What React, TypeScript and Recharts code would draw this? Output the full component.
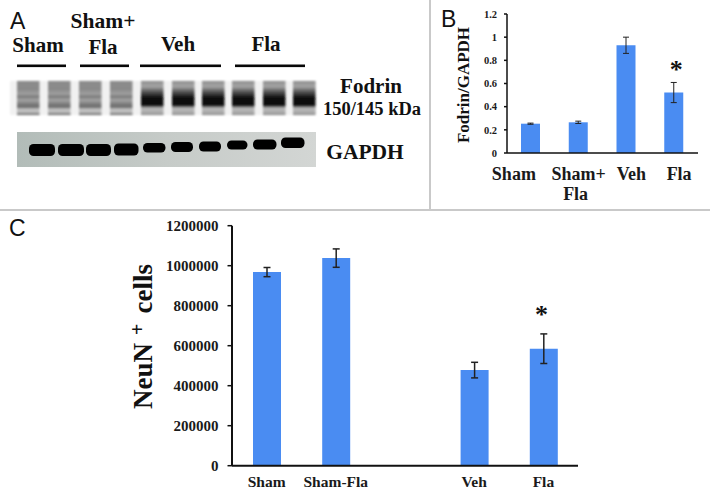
import { Bar, BarChart, ErrorBar, Label, ReferenceDot, XAxis, YAxis } from "recharts";

const SERIF = "'Liberation Serif', serif";
const SANS = "'Liberation Sans', sans-serif";
const BLUE = "#4a8cf2";
const INK = "#1a1a1a";

// panel B
const fodrinGroups = ["Sham", "Sham+\nFla", "Veh", "Fla"];
const fodrinValues = [0.253, 0.265, 0.93, 0.522];
const fodrinErrors = [0.005, 0.01, 0.07, 0.087];
const fodrinTicks = [0, 0.2, 0.4, 0.6, 0.8, 1, 1.2];
const fodrinLabelShift = [-17, 0, 5, 5];

// panel C
const neunGroups = ["Sham", "Sham-Fla", " ", "Veh", "Fla"];
const neunValues = [968000, 1038000, null, 478000, 585000];
const neunErrors = [23000, 46000, null, 39000, 74000];
const neunTicks = [0, 200000, 400000, 600000, 800000, 1000000, 1200000];

// panel A blot
const fodrinLanes = [17, 48, 79, 110, 141, 172, 202, 232, 263, 293];
const fodrinLaneKinds = ["l", "l", "l", "l", "d", "d", "d", "d", "d", "d"];
const gapdhBands = [
  [29, 144, 26, 12], [58, 144, 26, 12], [86, 144, 25, 12], [114, 143.5, 24.5, 12], [143, 143, 22.5, 9.5],
  [171, 142, 22, 10], [199, 141.5, 22, 10], [227, 140.5, 20.5, 9], [253, 139.5, 23.5, 10], [281, 137.5, 23.5, 10.5],
];

const fodrinData = fodrinGroups.map((group, i) => ({ group, value: fodrinValues[i], err: fodrinErrors[i] }));
const neunData = neunGroups.map((group, i) => ({ group, value: neunValues[i], err: neunErrors[i] }));

function FodrinTick({ x, y, payload, index }: any) {
  const lines = String(payload.value).split("\n");
  return (
    <text fontFamily={SERIF} fontWeight={700} fontSize={18} fill={INK} textAnchor="middle">
      {lines.map((line: string, i: number) => (
        <tspan key={line} x={x + fodrinLabelShift[index] - (i > 0 ? 3 : 0)} y={y + 19 + i * 20}>
          {line}
        </tspan>
      ))}
    </text>
  );
}

function NeunAxisLabel() {
  return (
    <text
      transform="translate(152,126.5) rotate(-90)"
      textAnchor="middle"
      fontFamily={SERIF}
      fontWeight={700}
      fontSize={27}
      fill="#111"
    >
      NeuN
      <tspan dx={8} dy={-8} fontSize={20}>+</tspan>
      <tspan dx={10} dy={8}>cells</tspan>
    </text>
  );
}

function Blot() {
  return (
    <svg width={430} height={209} style={{ position: "absolute", left: 0, top: 0 }}>
      <defs>
        <linearGradient id="laneLight" x1="0" y1="0" x2="0" y2="1">
          <stop offset="0" stopColor="#8c8c8c" />
          <stop offset="0.25" stopColor="#8a8a8a" />
          <stop offset="0.38" stopColor="#a0a0a0" />
          <stop offset="0.46" stopColor="#7a7a7a" />
          <stop offset="0.56" stopColor="#a4a4a4" />
          <stop offset="0.68" stopColor="#7c7c7c" />
          <stop offset="0.76" stopColor="#6a6a6a" />
          <stop offset="0.84" stopColor="#c4c4c4" />
          <stop offset="0.92" stopColor="#bbb" />
          <stop offset="1" stopColor="#5c5c5c" />
        </linearGradient>
        <linearGradient id="laneDark" x1="0" y1="0" x2="0" y2="1">
          <stop offset="0" stopColor="#8e8e8e" />
          <stop offset="0.16" stopColor="#a4a4a4" />
          <stop offset="0.34" stopColor="#4a4a4a" />
          <stop offset="0.5" stopColor="#0c0c0c" />
          <stop offset="0.72" stopColor="#101010" />
          <stop offset="0.8" stopColor="#bcbcbc" />
          <stop offset="0.94" stopColor="#a8a8a8" />
          <stop offset="1" stopColor="#808080" />
        </linearGradient>
        <linearGradient id="gapdhBg" x1="0" y1="0" x2="1" y2="0">
          <stop offset="0" stopColor="#b2bcb8" />
          <stop offset="0.5" stopColor="#c6cbc8" />
          <stop offset="1" stopColor="#d3d6d4" />
        </linearGradient>
        <filter id="soft"><feGaussianBlur stdDeviation="1" /></filter>
        <filter id="bandSoft"><feGaussianBlur stdDeviation="0.6" /></filter>
      </defs>
      <rect x={10} y={81} width={306} height={34} fill="#f1f1f1" filter="url(#soft)" />
      {fodrinLanes.map((x, i) => (
        <rect
          key={x}
          x={x}
          y={81}
          width={22.5}
          height={34}
          fill={fodrinLaneKinds[i] === "l" ? "url(#laneLight)" : "url(#laneDark)"}
          filter="url(#soft)"
        />
      ))}
      <rect x={17} y={132} width={299} height={35} fill="url(#gapdhBg)" />
      {gapdhBands.map(([x, y, w, h]) => (
        <rect key={x} x={x} y={y} width={w} height={h} rx={4.5} fill="#060606" filter="url(#bandSoft)" />
      ))}
      <g fill="#080808">
        <rect x={17} y={64.5} width={49} height={2.6} />
        <rect x={80} y={64.5} width={49} height={2.6} />
        <rect x={140} y={64.5} width={81} height={2.6} />
        <rect x={235} y={64.5} width={70} height={2.6} />
      </g>
      <g fontFamily={SERIF} fontWeight={700} fill="#111">
        <text x={38} y={52} fontSize={21} textAnchor="middle">Sham</text>
        <text x={103} y={28} fontSize={21.5} textAnchor="middle">Sham+</text>
        <text x={103} y={54} fontSize={21} textAnchor="middle">Fla</text>
        <text x={178} y={51} fontSize={21} textAnchor="middle">Veh</text>
        <text x={266} y={51} fontSize={21} textAnchor="middle">Fla</text>
        <text x={371} y={93} fontSize={21} textAnchor="middle">Fodrin</text>
        <text x={372} y={115} fontSize={18.5} textAnchor="middle">150/145 kDa</text>
        <text x={365} y={159} fontSize={21.5} textAnchor="middle">GAPDH</text>
      </g>
    </svg>
  );
}

const panelLetter = (x: number, y: number, letter: string) => (
  <div style={{ position: "absolute", left: x, top: y, fontFamily: SANS, fontSize: 23, lineHeight: "26px", color: "#111" }}>
    {letter}
  </div>
);

export default function App() {
  return (
    <div style={{ position: "absolute", left: 0, top: 0, width: 710, height: 500, background: "#fff", overflow: "hidden" }}>
      <Blot />
      <div style={{ position: "absolute", left: 0, top: 209, width: 710, height: 1.5, background: "#c9c9c9" }} />
      <div style={{ position: "absolute", left: 429, top: 0, width: 1.5, height: 209, background: "#c9c9c9" }} />
      {panelLetter(10, 8, "A")}
      {panelLetter(441, 6, "B")}
      {panelLetter(9, 215, "C")}

      <div style={{ position: "absolute", left: 430, top: 0 }}>
        <BarChart width={280} height={210} data={fodrinData} margin={{ top: 14, right: 12, bottom: 0, left: 0 }}>
          <XAxis
            dataKey="group"
            interval={0}
            height={57}
            tick={<FodrinTick />}
            tickLine={false}
            axisLine={{ stroke: "#111", strokeWidth: 1.5 }}
          />
          <YAxis
            width={77}
            domain={[0, 1.2]}
            ticks={fodrinTicks}
            interval={0}
            tickSize={3}
            tickMargin={7}
            axisLine={{ stroke: "#111", strokeWidth: 1.5 }}
            tickLine={{ stroke: "#111", strokeWidth: 1.5 }}
            tick={{ fontFamily: SERIF, fontWeight: 700, fontSize: 10.5, fill: INK }}
          >
            <Label
              content={() => (
                <text
                  transform="translate(39,85) rotate(-90)"
                  textAnchor="middle"
                  fontFamily={SERIF}
                  fontWeight={700}
                  fontSize={17}
                  fill="#111"
                >
                  Fodrin/GAPDH
                </text>
              )}
            />
          </YAxis>
          <Bar dataKey="value" fill={BLUE} barSize={19} isAnimationActive={false}>
            <ErrorBar dataKey="err" width={3} stroke="#222" strokeWidth={1} isAnimationActive={false} />
          </Bar>
          <ReferenceDot
            x="Fla"
            y={0.73}
            r={0}
            fill="none"
            stroke="none"
            label={{ value: "*", position: "center", dx: 2, fontFamily: SERIF, fontWeight: 700, fontSize: 26, fill: "#111" }}
          />
        </BarChart>
      </div>

      <div style={{ position: "absolute", left: 0, top: 210 }}>
        <BarChart width={710} height={290} data={neunData} margin={{ top: 15.7, right: 132, bottom: 0, left: 0 }}>
          <XAxis
            dataKey="group"
            interval={0}
            height={34.3}
            tickLine={false}
            tickMargin={4}
            axisLine={{ stroke: "#111", strokeWidth: 2 }}
            tick={{ fontFamily: SERIF, fontWeight: 700, fontSize: 15.5, fill: INK }}
          />
          <YAxis
            width={232}
            domain={[0, 1200000]}
            ticks={neunTicks}
            interval={0}
            tickSize={4.5}
            tickMargin={9}
            axisLine={{ stroke: "#111", strokeWidth: 2 }}
            tickLine={{ stroke: "#111", strokeWidth: 1.5 }}
            tick={{ fontFamily: SERIF, fontWeight: 700, fontSize: 15, fill: INK }}
          >
            <Label content={() => <NeunAxisLabel />} />
          </YAxis>
          <Bar dataKey="value" fill={BLUE} barSize={28} isAnimationActive={false}>
            <ErrorBar dataKey="err" width={3.5} stroke="#222" strokeWidth={1.5} isAnimationActive={false} />
          </Bar>
          <ReferenceDot
            x="Fla"
            y={760000}
            r={0}
            fill="none"
            stroke="none"
            label={{ value: "*", position: "center", dx: -2, fontFamily: SERIF, fontWeight: 700, fontSize: 26, fill: "#111" }}
          />
        </BarChart>
      </div>
    </div>
  );
}
